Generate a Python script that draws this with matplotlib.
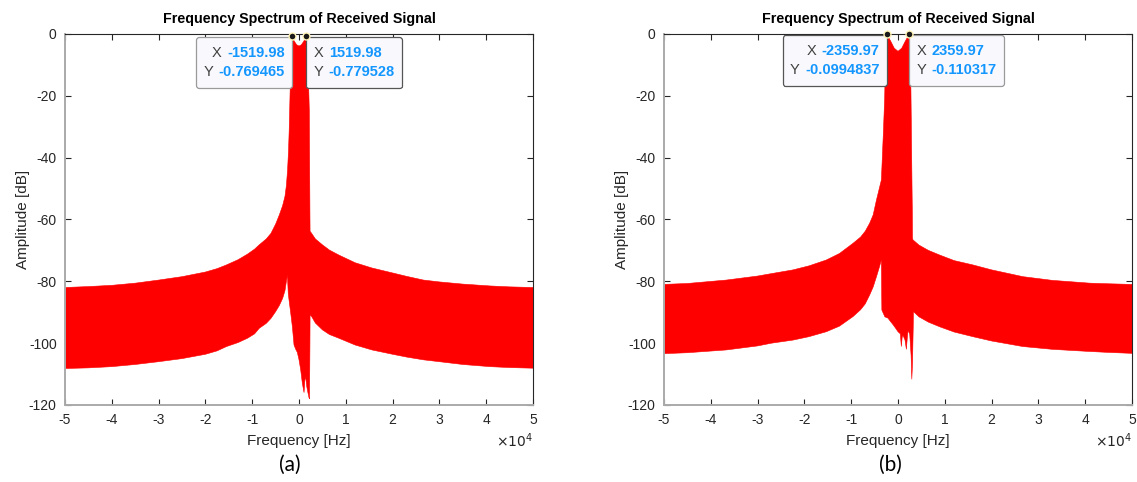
"""
Received-signal spectrum, two cases side by side, with MATLAB-style data tips
"""
import numpy as np
import matplotlib.pyplot as plt
from matplotlib.offsetbox import TextArea, HPacker, VPacker, AnnotationBbox, DrawingArea

plt.rcParams['font.family'] = ['Liberation Sans', 'DejaVu Sans']
plt.rcParams['axes.unicode_minus'] = False

# ----- case (a): spectrum envelope (Hz, dB) -----
freq_up_a = [-50000, -45000, -40000, -35000, -30000, -25000, -20000, -17500, -15500,
             -13000, -11000, -9500, -8500, -7000, -6000, -5000, -4200, -3500, -3000,
             -2700, -2450, -2250, -2100, -1800, -1519.98, -1000, -500, 0,
             500, 1000, 1519.98, 1900, 2200, 2330, 2360, 2700, 3500, 5000, 6500, 8500,
             12000, 15600, 20000, 23000, 26600, 30000, 35000, 40800, 45000, 50000]
amp_up_a = [-82.0, -81.7, -81.3, -80.6, -79.6, -78.5, -77.0, -75.9, -74.7,
            -73.0, -71.2, -69.6, -68.2, -66.3, -64.5, -61.5, -58.5, -55.5, -52.5,
            -49.0, -44.0, -38.0, -31.0, -12.0, -0.769465, -2.4, -3.5, -3.9,
            -3.5, -2.4, -0.779528, -8.0, -25.0, -58.0, -63.8, -64.5, -66.3, -68.2, -69.9, -71.5,
            -74.0, -75.7, -77.3, -78.4, -79.6, -80.2, -80.9, -81.5, -81.8, -82.0]
freq_lo_a = [-50000, -45000, -40000, -35000, -30000, -25000, -20000, -17500, -15500,
             -13000, -11000, -9500, -8500, -7000, -6000, -5000, -4200, -3500, -3000,
             -2750, -2480, -2300, -2140, -1800, -1420, -1070, -700, -360, 0,
             360, 710, 1070, 1250, 1420, 1650, 1900, 2140, 2250, 2330, 2360, 2700,
             3500, 5000, 6500, 8500, 12000, 15600, 20000, 23000, 26600, 30000, 35000,
             40800, 45000, 50000]
amp_lo_a = [-108.2, -108.0, -107.6, -106.9, -106.0, -105.0, -103.6, -102.5, -101.1,
            -99.8, -98.4, -97.0, -95.2, -93.6, -92.0, -89.8, -87.8, -85.5, -83.0,
            -80.5, -78.0, -84.0, -86.0, -90.0, -94.7, -100.6, -102.0, -103.0, -105.4,
            -108.7, -113.0, -116.0, -112.0, -110.8, -114.0, -116.0, -117.7, -118.0, -100.0, -90.8, -91.4,
            -93.5, -95.7, -97.2, -98.4, -100.6, -102.2, -103.6, -104.5, -105.4, -106.0, -106.9,
            -107.6, -107.9, -108.1]

# ----- case (b) -----
freq_up_b = [-50000, -45000, -36700, -30000, -27000, -22400, -19000, -15300, -12500,
             -9600, -8000, -7000, -6050, -5300, -4600, -4000, -3550, -3400, -3100,
             -2840, -2630, -2359.97, -1500, -800, 0, 800, 1500, 2359.97, 2640, 2860,
             3000, 3070, 3100, 3200, 4500, 6500, 8900, 12000, 16000, 20000, 26700,
             33000, 41000, 45000, 50000]
amp_up_b = [-81.0, -80.7, -79.6, -78.3, -77.5, -76.3, -75.0, -73.1, -71.0,
            -67.7, -65.7, -63.8, -61.2, -58.5, -53.7, -50.0, -47.2, -41.8, -31.0,
            -20.3, -1.9, -0.0994837, -2.5, -4.6, -5.6, -4.6, -2.5, -0.110317, -1.9, -31.0,
            -50.0, -58.5, -66.0, -66.6, -68.3, -70.0, -71.5, -73.3, -74.7, -76.3, -78.5,
            -79.7, -80.6, -80.8, -81.0]
freq_lo_b = [-50000, -45000, -36700, -30000, -27000, -22400, -19000, -15300, -12500,
             -9600, -8000, -7000, -6050, -5300, -4600, -4000, -3550, -3450, -2800, -2150,
             -1600, -1070, -500, 0, 500, 710, 900, 1070, 1500, 1790, 2000, 2140, 2500,
             2800, 2950, 3100, 3250, 3300, 4500, 6500, 8900, 12000, 16000, 20000, 26700,
             33000, 41000, 45000, 50000]
amp_lo_b = [-103.4, -103.1, -102.2, -100.9, -100.0, -99.0, -97.9, -96.3, -94.5,
            -91.4, -89.2, -87.3, -84.4, -81.8, -78.5, -75.5, -73.1, -89.3, -91.5, -91.9,
            -93.0, -94.0, -95.2, -96.3, -97.0, -101.1, -98.0, -97.5, -99.0, -102.0, -98.0, -96.0, -97.0,
            -104.0, -111.7, -106.5, -95.0, -89.8, -91.5, -93.2, -94.7, -96.4, -97.9, -99.3, -101.1,
            -102.0, -102.7, -103.0, -103.3]

# data tip points (peaks)
tips_a = [(-1519.98, -0.769465), (1519.98, -0.779528)]
tips_b = [(-2359.97, -0.0994837), (2359.97, -0.110317)]

xticks = np.arange(-5, 6) * 1e4
xticklabels = [str(v) for v in range(-5, 6)]
yticks = np.arange(-120, 1, 20)

TIP_BLUE = '#1496ff'
TIP_FS = 10.5
TIP_PAD = 0.52   # frame padding, fraction of 10 pt


def datatip(ax, x, y, left, edge):
    rows = []
    for lab, val in (('X', x), ('Y', y)):
        rows.append(HPacker(children=[
            TextArea(lab, textprops=dict(color='#404040', fontsize=TIP_FS)),
            TextArea(f'{val:g}', textprops=dict(color=TIP_BLUE, fontsize=TIP_FS,
                                                 fontweight='bold'))],
            pad=0, sep=4, align='baseline'))
    inner = VPacker(children=rows, align='right' if left else 'left', pad=0, sep=3.5)
    # a little extra room above and below the two rows
    box = VPacker(children=[DrawingArea(0, 0), inner, DrawingArea(0, 0)],
                  align='right' if left else 'left', pad=0, sep=1.4)
    off = TIP_PAD * 10
    ab = AnnotationBbox(box, (x, y), xycoords='data',
                        xybox=(-off if left else off, -off - 0.5),
                        boxcoords='offset points',
                        box_alignment=(1, 1) if left else (0, 1),
                        frameon=True, fontsize=10,
                        bboxprops=dict(boxstyle=f'round,pad={TIP_PAD},rounding_size=0.2',
                                       fc='#f9f9fd', ec=edge, lw=0.9))
    ab.set_zorder(5)
    ax.add_artist(ab)


def spectrum(ax, fu, au, fl, al, tips, edges):
    # band between upper and lower envelope
    xs = np.concatenate([fu, fl[::-1]])
    ys = np.concatenate([au, al[::-1]])
    ax.fill(xs, ys, color='#ff0000', lw=0.4, ec='#ff0000', zorder=2)

    for (x, y), edge in zip(tips, edges):
        datatip(ax, x, y, x < 0, edge)
    ax.plot([t[0] for t in tips], [t[1] for t in tips], 'o', ms=5, mfc='#1a1a1a',
            mec='#fff4b8', mew=1.0, clip_on=False, zorder=6)

    ax.set_xlim(-5e4, 5e4)
    ax.set_ylim(-120, 0)
    ax.set_xticks(xticks)
    ax.set_xticklabels(xticklabels)
    ax.set_yticks(yticks)
    ax.tick_params(direction='in', length=4, width=0.8, top=True, right=True,
                   labelsize=10, colors='#262626', pad=6)
    for s in ('left', 'bottom'):
        ax.spines[s].set_color('#aaaaaa')
        ax.spines[s].set_linewidth(1.4)
    for s in ('top', 'right'):
        ax.spines[s].set_color('#262626')
        ax.spines[s].set_linewidth(0.8)
    ax.set_title('Frequency Spectrum of Received Signal', fontsize=10.3,
                 fontweight='bold', pad=8)
    ax.set_xlabel('Frequency [Hz]', fontsize=11, color='#262626', labelpad=5)
    ax.set_ylabel('Amplitude [dB]', fontsize=11, color='#262626', labelpad=-1)
    ax.text(1.0, -0.072, r'$\times10^{4}$', transform=ax.transAxes, ha='right',
            va='top', fontsize=10, color='#262626')


fig = plt.figure(figsize=(11.37, 4.82), dpi=100)
ax_a = fig.add_axes([0.0572, 0.1598, 0.4116, 0.7697])
ax_b = fig.add_axes([0.5840, 0.1598, 0.4116, 0.7697])

spectrum(ax_a, freq_up_a, amp_up_a, freq_lo_a, amp_lo_a, tips_a, ['#9a9a9a', '#555555'])
spectrum(ax_b, freq_up_b, amp_up_b, freq_lo_b, amp_lo_b, tips_b, ['#555555', '#9a9a9a'])

fig.text(0.255, 0.035, '(a)', ha='center', va='center', fontsize=15, family='Lato')
fig.text(0.783, 0.035, '(b)', ha='center', va='center', fontsize=15, family='Lato')

fig.savefig('out.png', dpi=100)
